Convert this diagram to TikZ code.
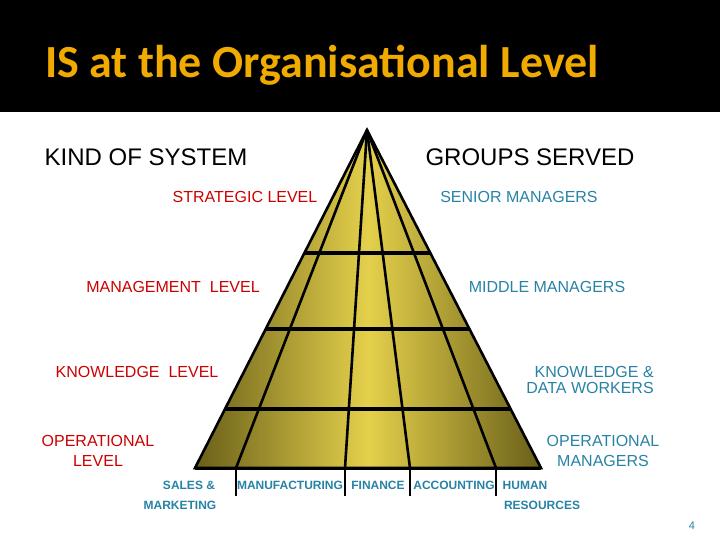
\documentclass[tikz,border=0pt]{standalone}
\usepackage{fontspec}
\setmainfont{Liberation Sans}
\newfontfamily\titlefont{Carlito}
\usetikzlibrary{calc}
\begin{document}
\begin{tikzpicture}[x=1pt,y=-1pt,
  red/.style={text=red!80!black,font=\fontsize{16}{16}\selectfont},
  teal/.style={text={rgb,255:red,40;green,130;blue,165},font=\fontsize{16}{16}\selectfont,align=center},
  redc/.style={text=red!80!black,font=\fontsize{16}{20}\selectfont,align=center},
  small/.style={text={rgb,255:red,40;green,130;blue,165},font=\bfseries\fontsize{12}{12}\selectfont},
  head/.style={font=\fontsize{24}{24}\selectfont},
  grid/.style={line width=2.6pt},
  gline/.style={line width=4pt}]
\definecolor{pdark}{RGB}{105,95,25}
\definecolor{plight}{RGB}{228,208,75}
\useasboundingbox (0,0) rectangle (720,540);
\fill[black] (0,0) rectangle (720,112);
\node[anchor=base west,inner sep=0pt,text={rgb,255:red,240;green,170;blue,0},font=\titlefont\bfseries\fontsize{46}{46}\selectfont] (title) at (45,78) {IS at the Organisational Level};
\coordinate (A) at (367,130);
\coordinate (L) at (195,468);
\coordinate (R) at (541,468);
\shade[left color=pdark,right color=pdark,middle color=plight] (A) -- (L) -- (R) -- cycle;
% radial lines
\foreach \x in {236,345,410,496}{\draw[grid] (A) -- (\x,468);}
% horizontal bars
\foreach \t in {0.364,0.589,0.825}{
  \draw[gline] ($(A)!\t!(L)$) -- ($(A)!\t!(R)$);}
\draw[grid] (A) -- (L) -- (R) -- cycle;
\draw[line width=3pt] (L) -- (R);
\foreach \x in {236,345,410,496}{\draw[line width=2.4pt] (\x,468) -- (\x,496);}
% labels
\node[head] (k) at (146,157) {KIND OF SYSTEM};
\node[head] (g) at (530,157) {GROUPS SERVED};
\node[red] (s) at (245,197) {STRATEGIC LEVEL};
\node[red] (m) at (173,287) {MANAGEMENT\ \ LEVEL};
\node[red] (kl) at (137,372) {KNOWLEDGE\ \ LEVEL};
\node[redc] (o) at (98,451) {OPERATIONAL\\LEVEL};
\node[teal] (sm) at (519,197) {SENIOR MANAGERS};
\node[teal] (mm) at (547,287) {MIDDLE MANAGERS};
\node[teal,align=right,font=\fontsize{16}{16}\selectfont] (kd) at (590,380) {KNOWLEDGE \&\\DATA WORKERS};
\node[teal,font=\fontsize{16}{20}\selectfont] (om) at (603,451) {OPERATIONAL\\MANAGERS};
\node[small] (sa) at (189,485) {SALES \&};
\node[small] (mk) at (180,505) {MARKETING};
\node[small] (mf) at (290,485) {MANUFACTURING};
\node[small] (fi) at (378,485) {FINANCE};
\node[small] (ac) at (454,485) {ACCOUNTING};
\node[small] (hu) at (525,485) {HUMAN};
\node[small] (re) at (542,505) {RESOURCES};
\node[text={rgb,255:red,40;green,130;blue,165},font=\fontsize{11}{11}\selectfont] (p) at (692,526) {4};
\end{tikzpicture}
\end{document}
